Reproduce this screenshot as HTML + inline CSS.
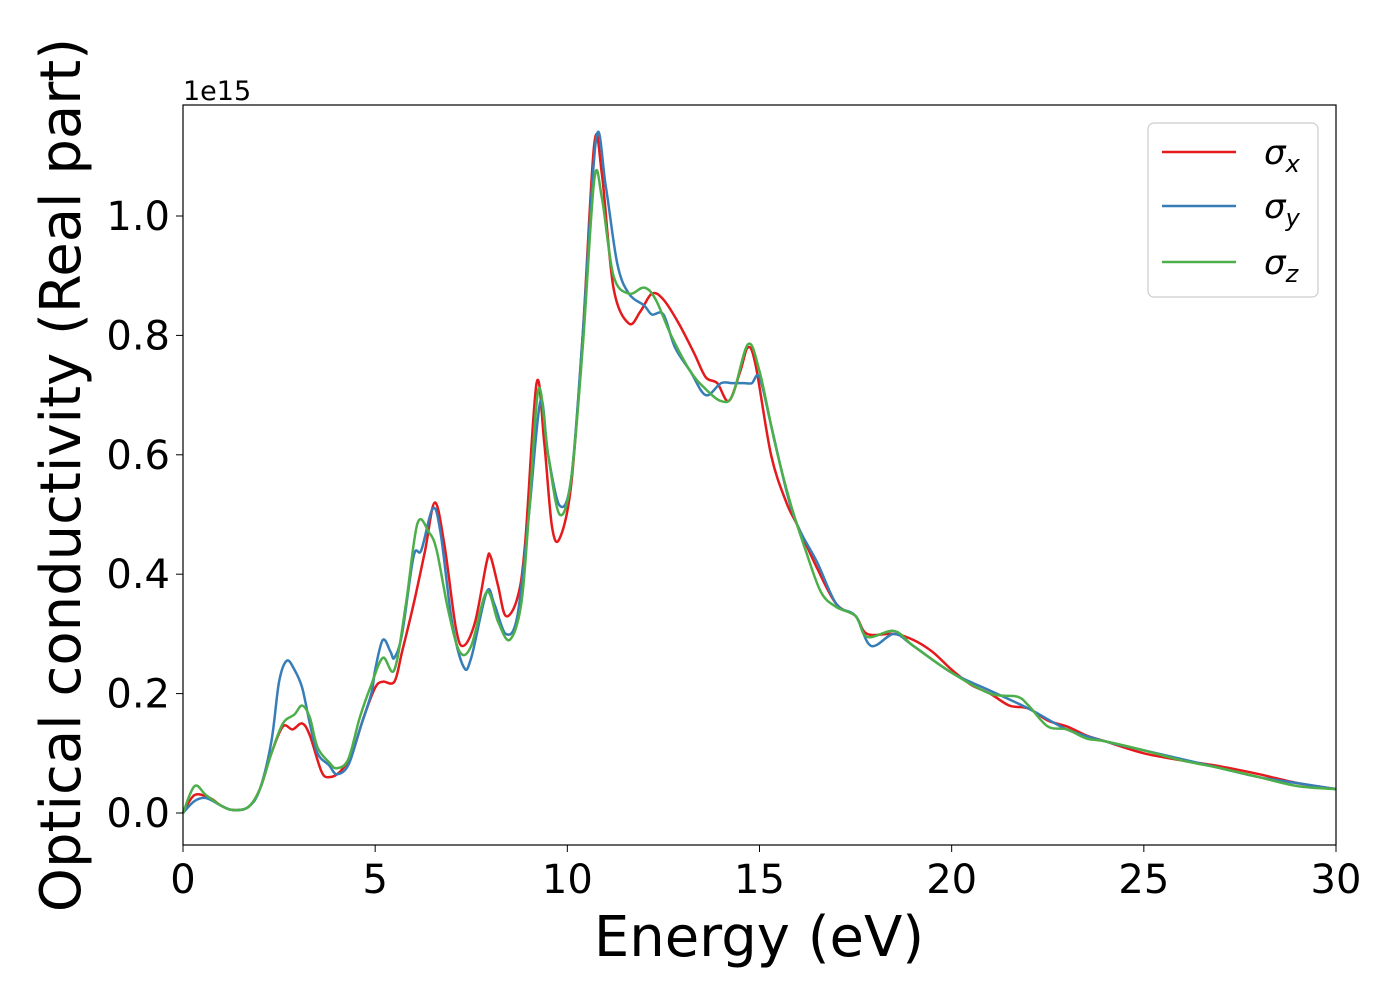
<!DOCTYPE html>
<html><head><meta charset="utf-8"><style>
body{margin:0;background:#fff;}
svg text{font-family:"DejaVu Sans","Liberation Sans",sans-serif;}
</style></head><body>
<svg id="chart" width="1400" height="1000" xmlns="http://www.w3.org/2000/svg">
<rect width="1400" height="1000" fill="#fff"/>
<g id="series"></g>
<rect x="183" y="105" width="1153" height="740" fill="none" stroke="#000" stroke-width="1.2"/>
<g id="xticks"></g><g id="yticks"></g>
<text x="183" y="100" font-size="27">1e15</text>
<text x="759" y="956" font-size="56" text-anchor="middle">Energy (eV)</text>
<text transform="translate(80,475) rotate(-90)" font-size="56" text-anchor="middle">Optical conductivity (Real part)</text>
<g>
<rect x="1148" y="123" width="170" height="174" rx="6" fill="#fff" stroke="#ccc" stroke-width="1.2"/>
<line x1="1162" y1="152" x2="1236" y2="152" stroke="#e41a1c" stroke-width="2.5"/>
<text x="1264" y="164" font-size="34" font-style="italic">σ<tspan font-size="24" dy="8">x</tspan></text>
<line x1="1162" y1="206" x2="1236" y2="206" stroke="#377eb8" stroke-width="2.5"/>
<text x="1264" y="218" font-size="34" font-style="italic">σ<tspan font-size="24" dy="8">y</tspan></text>
<line x1="1162" y1="262" x2="1236" y2="262" stroke="#4daf4a" stroke-width="2.5"/>
<text x="1264" y="274" font-size="34" font-style="italic">σ<tspan font-size="24" dy="8">z</tspan></text>
</g>
</svg>
<script>
const xTicks=[0,5,10,15,20,25,30];
const yTicks=[0.0,0.2,0.4,0.6,0.8,1.0];
const redX=[0,0.3,0.7,1.0,1.3,1.7,2.0,2.3,2.6,2.85,3.1,3.3,3.6,3.8,4.1,4.4,4.7,5.0,5.2,5.5,5.7,6.0,6.3,6.55,6.8,7.1,7.3,7.6,7.9,8.0,8.2,8.4,8.7,8.9,9.2,9.4,9.6,9.8,10.1,10.4,10.7,10.9,11.2,11.6,11.9,12.2,12.5,12.9,13.3,13.6,13.9,14.2,14.5,14.7,14.9,15.3,15.7,16.0,16.5,17.0,17.5,17.8,18.5,19.0,19.5,20.0,20.5,21.0,21.5,22.0,22.5,23.0,23.5,24.0,25,26,27,28,29,30];
const redY=[0,0.03,0.025,0.012,0.005,0.01,0.04,0.1,0.145,0.14,0.15,0.13,0.07,0.06,0.07,0.1,0.16,0.21,0.22,0.22,0.27,0.35,0.44,0.52,0.45,0.31,0.28,0.32,0.42,0.43,0.38,0.33,0.36,0.45,0.72,0.62,0.48,0.46,0.55,0.8,1.12,1.07,0.88,0.82,0.84,0.87,0.86,0.82,0.77,0.73,0.72,0.69,0.74,0.78,0.75,0.6,0.52,0.48,0.41,0.35,0.33,0.3,0.3,0.29,0.27,0.24,0.215,0.2,0.18,0.175,0.155,0.145,0.13,0.12,0.1,0.088,0.078,0.065,0.05,0.04];
const blueX=[0,0.3,0.6,1.0,1.3,1.7,2.0,2.3,2.5,2.7,2.9,3.1,3.3,3.5,3.8,4.0,4.3,4.6,4.9,5.0,5.2,5.4,5.5,5.7,6.0,6.2,6.5,6.7,7.0,7.3,7.5,7.9,8.1,8.4,8.7,9.0,9.3,9.5,9.8,10.1,10.4,10.75,11.0,11.3,11.6,12.0,12.2,12.5,12.8,13.2,13.6,14.0,14.3,14.6,14.8,15.0,15.3,15.7,16.0,16.5,17.0,17.5,17.9,18.5,19.0,20,21,22,23,24,25,26,27,28,29,30];
const blueY=[0,0.02,0.025,0.012,0.005,0.01,0.04,0.12,0.22,0.255,0.24,0.21,0.15,0.1,0.08,0.065,0.08,0.14,0.2,0.24,0.29,0.27,0.26,0.3,0.43,0.44,0.51,0.47,0.32,0.245,0.26,0.37,0.35,0.3,0.33,0.5,0.69,0.6,0.515,0.56,0.8,1.13,1.05,0.92,0.87,0.85,0.835,0.835,0.78,0.74,0.7,0.72,0.72,0.72,0.72,0.73,0.65,0.54,0.48,0.42,0.35,0.33,0.28,0.3,0.28,0.235,0.205,0.175,0.14,0.12,0.105,0.09,0.075,0.06,0.05,0.04];
const greenX=[0,0.3,0.6,1.0,1.3,1.7,2.0,2.3,2.6,2.9,3.1,3.3,3.5,3.8,4.0,4.3,4.6,4.9,5.2,5.5,5.8,6.1,6.4,6.6,6.9,7.2,7.5,7.9,8.2,8.5,8.8,9.0,9.25,9.5,9.8,10.1,10.4,10.7,10.9,11.2,11.6,12.0,12.3,12.7,13.2,13.6,14.0,14.3,14.7,15.0,15.4,15.8,16.2,16.6,17.0,17.5,17.8,18.5,19,20,21,21.7,22,22.5,23,23.5,24,25,26,27,28,29,30];
const greenY=[0,0.045,0.03,0.012,0.005,0.01,0.04,0.1,0.15,0.165,0.18,0.16,0.11,0.085,0.075,0.09,0.16,0.215,0.26,0.24,0.35,0.485,0.47,0.44,0.34,0.27,0.28,0.37,0.32,0.29,0.35,0.5,0.71,0.6,0.5,0.56,0.78,1.06,1.03,0.9,0.87,0.88,0.86,0.8,0.74,0.71,0.69,0.7,0.785,0.74,0.62,0.52,0.44,0.37,0.345,0.33,0.295,0.305,0.28,0.235,0.2,0.195,0.18,0.145,0.14,0.125,0.12,0.105,0.088,0.075,0.06,0.045,0.04];
const X=v=>183+v/30*1153;
const Y=v=>813-v*597;
const NS="http://www.w3.org/2000/svg";
function smooth(xs,ys){
  const p=xs.map((x,i)=>[X(x),Y(ys[i])]);
  let d="M"+p[0][0]+","+p[0][1];
  for(let i=0;i<p.length-1;i++){
    const p0=p[Math.max(i-1,0)],p1=p[i],p2=p[i+1],p3=p[Math.min(i+2,p.length-1)];
    const c1=[p1[0]+(p2[0]-p0[0])/6,p1[1]+(p2[1]-p0[1])/6];
    const c2=[p2[0]-(p3[0]-p1[0])/6,p2[1]-(p3[1]-p1[1])/6];
    d+=`C${c1[0]},${c1[1]} ${c2[0]},${c2[1]} ${p2[0]},${p2[1]}`;
  }
  return d;
}
const g=document.getElementById("series");
[[redX,redY,"#e41a1c","series-sigma-x"],[blueX,blueY,"#377eb8","series-sigma-y"],[greenX,greenY,"#4daf4a","series-sigma-z"]].forEach(s=>{
  const el=document.createElementNS(NS,"path");
  el.setAttribute("d",smooth(s[0],s[1]));
  el.setAttribute("fill","none");el.setAttribute("stroke",s[2]);el.setAttribute("stroke-width","2.5");
  
  
  g.appendChild(el);
});
const gx=document.getElementById("xticks");
xTicks.forEach(t=>{
  const l=document.createElementNS(NS,"line");
  l.setAttribute("x1",X(t));l.setAttribute("x2",X(t));l.setAttribute("y1",845);l.setAttribute("y2",852);l.setAttribute("stroke","#000");
  
  
  gx.appendChild(l);
  const tx=document.createElementNS(NS,"text");
  tx.setAttribute("x",X(t));tx.setAttribute("y",893);tx.setAttribute("font-size","40");tx.setAttribute("text-anchor","middle");
  tx.textContent=t;
  
  
  gx.appendChild(tx);
});
const gy=document.getElementById("yticks");
yTicks.forEach(t=>{
  const l=document.createElementNS(NS,"line");
  l.setAttribute("x1",176);l.setAttribute("x2",183);l.setAttribute("y1",Y(t));l.setAttribute("y2",Y(t));l.setAttribute("stroke","#000");
  
  
  gy.appendChild(l);
  const tx=document.createElementNS(NS,"text");
  tx.setAttribute("x",170);tx.setAttribute("y",Y(t)+14);tx.setAttribute("font-size","40");tx.setAttribute("text-anchor","end");
  tx.textContent=t.toFixed(1);
  
  
  gy.appendChild(tx);
});
</script>
</body></html>
